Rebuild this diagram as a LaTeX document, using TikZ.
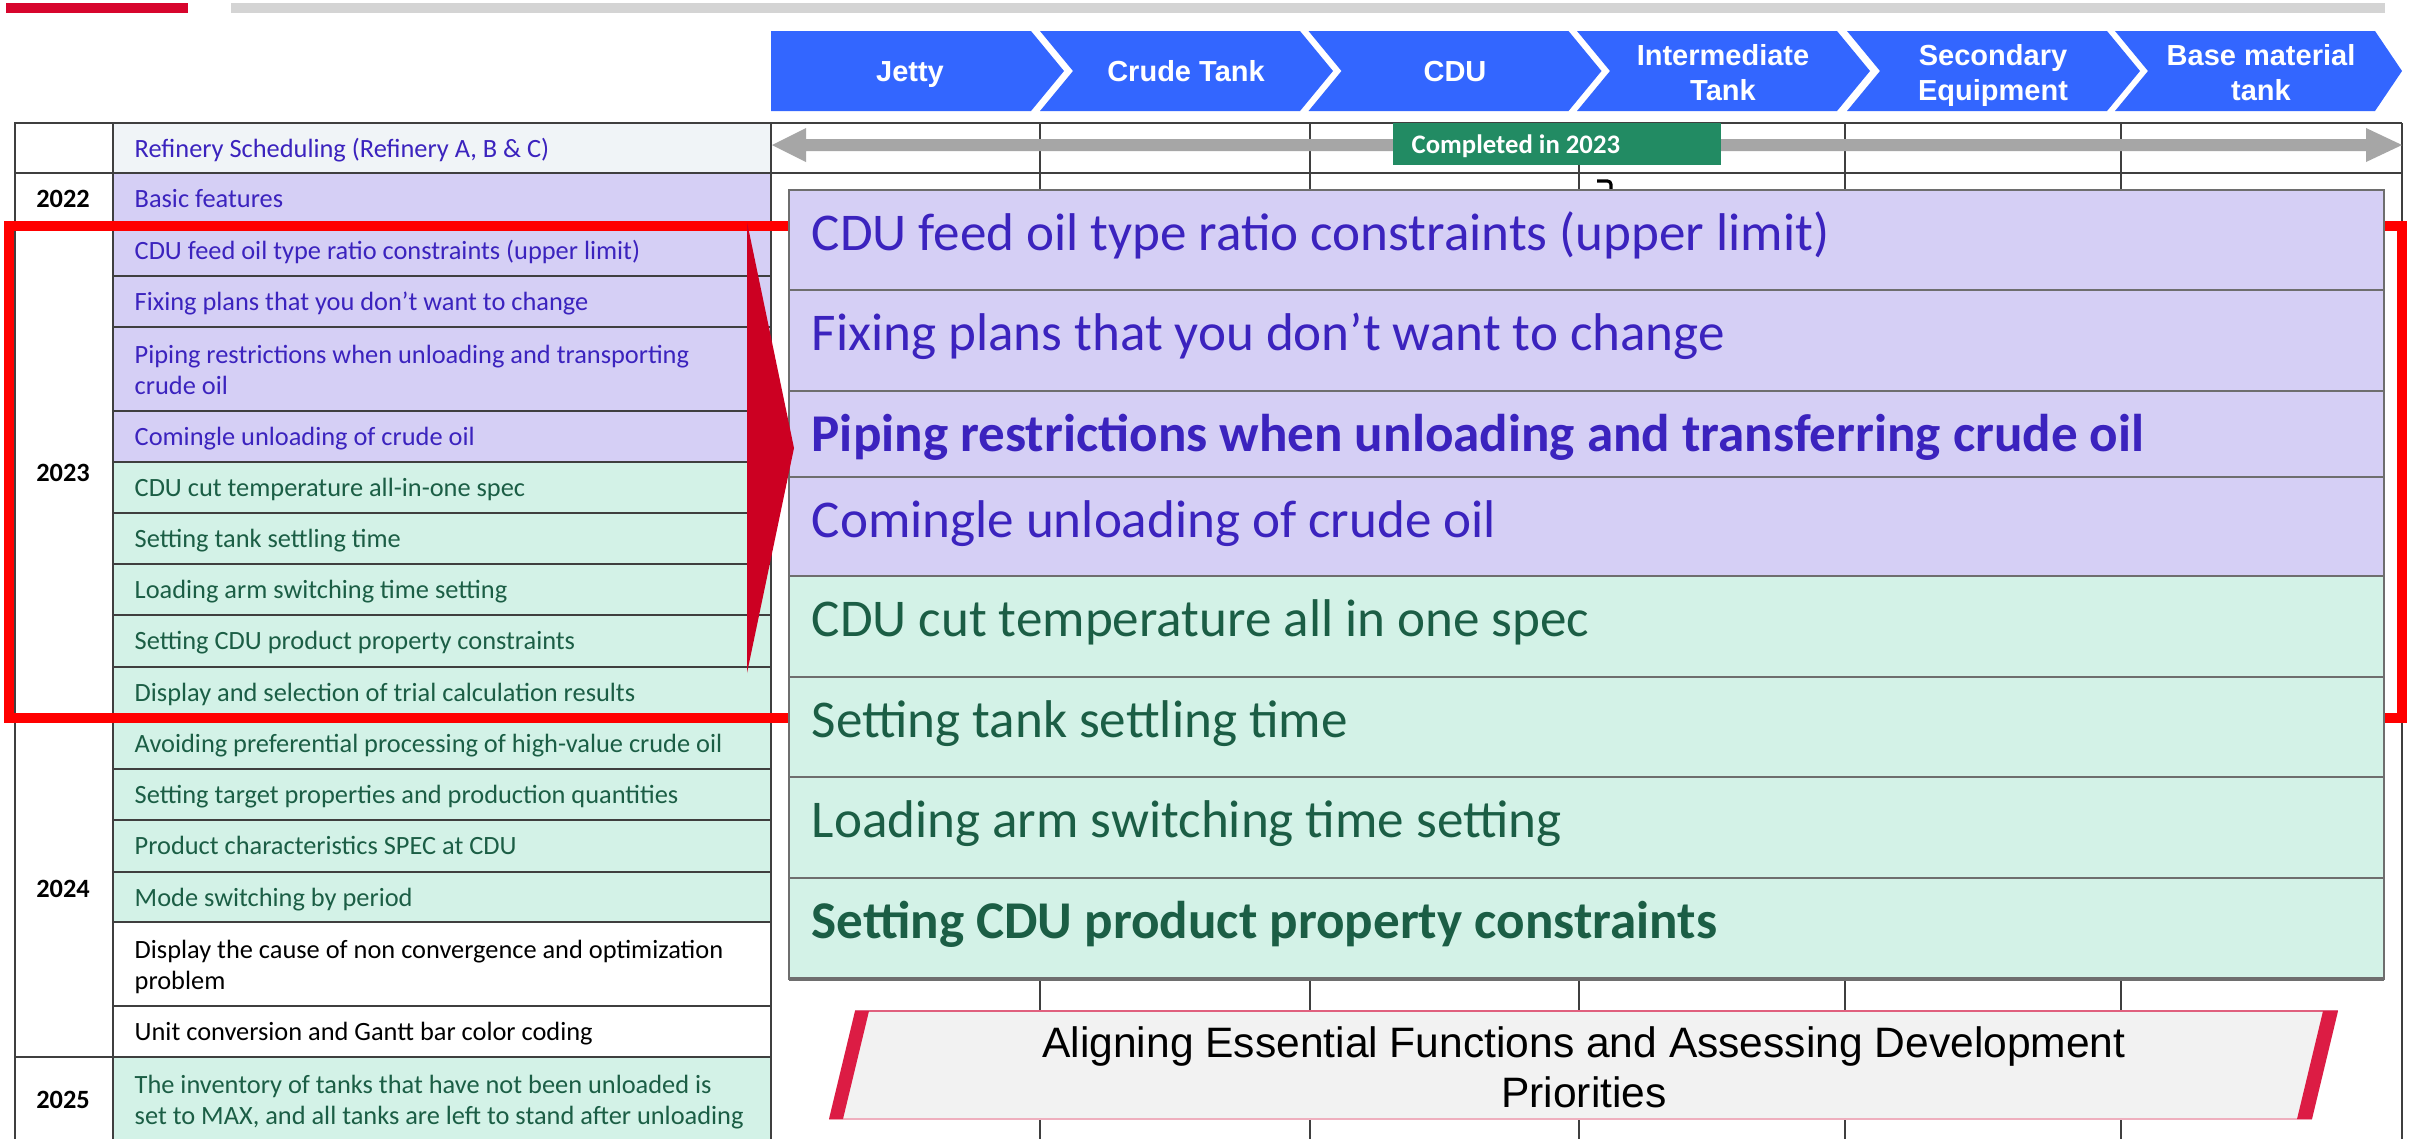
\documentclass[tikz,border=0pt]{standalone}
\usepackage{fontspec}
\setmainfont{Carlito}
\newfontfamily\arialf{Liberation Sans}
\definecolor{chevblue}{HTML}{3366FF}
\definecolor{lav}{HTML}{D5CFF5}
\definecolor{mint}{HTML}{D3F2E7}
\definecolor{hdrfill}{HTML}{F0F4F7}
\definecolor{purtxt}{HTML}{3B23BE}
\definecolor{grntxt}{HTML}{1B5E45}
\definecolor{arrowg}{HTML}{A6A6A6}
\definecolor{compg}{HTML}{228B63}
\definecolor{redr}{HTML}{FF0000}
\definecolor{trired}{HTML}{CC0022}
\definecolor{banred}{HTML}{DC1C44}
\definecolor{banfill}{HTML}{F2F2F2}
\definecolor{banpink}{HTML}{E0607E}
\definecolor{barg}{HTML}{D4D4D4}
\definecolor{barr}{HTML}{D7052D}
\definecolor{gridc}{HTML}{3F3F3F}
\definecolor{boxc}{HTML}{6E6E6E}
\newcommand\frow[6]{%
  \filldraw[fill=#4,draw=gridc,line width=0.45pt] (113,#2) rectangle (771,#3);
  \node[tbl,text=#5] (#1) at (134,#2+34) {#6};}
\newcommand\frowtwo[7]{%
  \filldraw[fill=#4,draw=gridc,line width=0.45pt] (113,#2) rectangle (771,#3);
  \node[tbl,text=#5] (#1a) at (134,#2+36) {#6};
  \node[tbl,text=#5] (#1b) at (134,#2+67) {#7};}
\newcommand\brow[6]{%
  \filldraw[fill=#4,draw=boxc,line width=0.6pt] (789,#2) rectangle (2384,#3);
  \node[big,text=#5] (#1) at (811,#2+60) {#6};}
\begin{document}
\begin{tikzpicture}[x=0.01cm,y=-0.01cm,
  tbl/.style={font=\fontsize{7.5pt}{9pt}\selectfont,anchor=base west,inner sep=0pt},
  big/.style={font=\fontsize{15.1pt}{18pt}\selectfont,anchor=base west,inner sep=0pt},
  chevtxt/.style={font=\arialf\bfseries\fontsize{8.25pt}{10pt}\selectfont,text=white,anchor=base,inner sep=0pt},
  yeartxt/.style={font=\bfseries\fontsize{7.5pt}{9pt}\selectfont,anchor=base,inner sep=0pt},
  bantxt/.style={font=\arialf\fontsize{12.1pt}{14pt}\selectfont,anchor=base,inner sep=0pt}]
\useasboundingbox (0,0) rectangle (2412,1138);
\clip (0,0) rectangle (2412,1138);
\fill[white] (0,0) rectangle (2412,1138);

% top bars
\fill[barr] (6,3) rectangle (188,13);
\fill[barg] (231,3) rectangle (2385,13);

% chevrons
\fill[chevblue] (771,31) -- (1031,31) -- (1064,71) -- (1031,111) -- (771,111) -- cycle;
\foreach \L in {1040,1308.5,1577,1847}
  \fill[chevblue] (\L,31) -- ++(260,0) -- ++(33,40) -- ++(-33,40) -- ++(-260,0) -- ++(33,-40) -- cycle;
\fill[chevblue] (2115,31) -- (2375,31) -- (2402,71) -- (2375,111) -- (2115,111) -- (2148,71) -- cycle;
\node[chevtxt] (c1) at (910,81) {Jetty};
\node[chevtxt] (c2) at (1186,81) {Crude Tank};
\node[chevtxt] (c3) at (1455,81) {CDU};
\node[chevtxt] (c4a) at (1723,65) {Intermediate};
\node[chevtxt] (c4b) at (1723,100) {Tank};
\node[chevtxt] (c5a) at (1993,65) {Secondary};
\node[chevtxt] (c5b) at (1993,100) {Equipment};
\node[chevtxt] (c6a) at (2261,65) {Base material};
\node[chevtxt] (c6b) at (2261,100) {tank};

% year column
\filldraw[fill=white,draw=gridc,line width=0.45pt] (15,123) rectangle (113,173);
\filldraw[fill=white,draw=gridc,line width=0.45pt] (15,173) rectangle (113,225);
\filldraw[fill=white,draw=gridc,line width=0.45pt] (15,225) rectangle (113,718);
\filldraw[fill=white,draw=gridc,line width=0.45pt] (15,718) rectangle (113,1057);
\filldraw[fill=white,draw=gridc,line width=0.45pt] (15,1057) rectangle (113,1160);
\node[yeartxt] (y22) at (63,207) {2022};
\node[yeartxt] (y23) at (63,481) {2023};
\node[yeartxt] (y24) at (63,897) {2024};
\node[yeartxt] (y25) at (63,1108) {2025};

% feature rows
\frow{f1}{123}{173}{hdrfill}{purtxt}{Refinery Scheduling (Refinery A, B \& C)}
\frow{f2}{173}{225}{lav}{purtxt}{Basic features}
\frow{f3}{225}{276}{lav}{purtxt}{CDU feed oil type ratio constraints (upper limit)}
\frow{f4}{276}{327}{lav}{purtxt}{Fixing plans that you don’t want to change}
\frowtwo{f5}{327}{411}{lav}{purtxt}{Piping restrictions when unloading and transporting}{crude oil}
\frow{f6}{411}{462}{lav}{purtxt}{Comingle unloading of crude oil}
\frow{f7}{462}{513}{mint}{grntxt}{CDU cut temperature all-in-one spec}
\frow{f8}{513}{564}{mint}{grntxt}{Setting tank settling time}
\frow{f9}{564}{615}{mint}{grntxt}{Loading arm switching time setting}
\frow{f10}{615}{667}{mint}{grntxt}{Setting CDU product property constraints}
\frow{f11}{667}{718}{mint}{grntxt}{Display and selection of trial calculation results}
\frow{f12}{718}{769}{mint}{grntxt}{Avoiding preferential processing of high-value crude oil}
\frow{f13}{769}{820}{mint}{grntxt}{Setting target properties and production quantities}
\frow{f14}{820}{872}{mint}{grntxt}{Product characteristics SPEC at CDU}
\frow{f15}{872}{922}{mint}{grntxt}{Mode switching by period}
\frowtwo{f16}{922}{1006}{white}{black}{Display the cause of non convergence and optimization}{problem}
\frow{f17}{1006}{1057}{white}{black}{Unit conversion and Gantt bar color coding}
\frowtwo{f18}{1057}{1160}{mint}{grntxt}{The inventory of tanks that have not been unloaded is}{set to MAX, and all tanks are left to stand after unloading}

% right grid
\draw[gridc,line width=0.45pt] (771,123) -- (2402,123) (771,173) -- (2402,173);
\foreach \X in {1040,1310,1579,1845,2121,2402}
  \draw[gridc,line width=0.45pt] (\X,123) -- (\X,1160);

% gray double arrow
\fill[arrowg] (772,145) -- (806,128) -- (806,139) -- (2366,139) -- (2366,128) -- (2402,145)
  -- (2366,162) -- (2366,151) -- (806,151) -- (806,162) -- cycle;

% completed label
\fill[compg] (1393,123) rectangle (1721,165);
\node[font=\bfseries\fontsize{7.6pt}{9pt}\selectfont,text=white,anchor=base west,inner sep=0pt] (comp) at (1411,153) {Completed in 2023};

% small hook
\draw[black,line width=0.9pt,rounded corners=1pt] (1597,181) -- (1611,181) -- (1611,191);

% red frame
\draw[redr,line width=2.85pt] (9,226) rectangle (2402,718);

% big box
\brow{b1}{190}{290}{lav}{purtxt}{CDU feed oil type ratio constraints (upper limit)}
\brow{b2}{290}{391}{lav}{purtxt}{Fixing plans that you don’t want to change}
\brow{b3}{391}{477}{lav}{purtxt}{\bfseries Piping restrictions when unloading and transferring crude oil}
\brow{b4}{477}{576}{lav}{purtxt}{Comingle unloading of crude oil}
\brow{b5}{576}{677}{mint}{grntxt}{CDU cut temperature all in one spec}
\brow{b6}{677}{777}{mint}{grntxt}{Setting tank settling time}
\brow{b7}{777}{878}{mint}{grntxt}{Loading arm switching time setting}
\brow{b8}{878}{979}{mint}{grntxt}{\bfseries Setting CDU product property constraints}
\draw[boxc,line width=0.6pt] (789,190) rectangle (2384,979);
\draw[boxc,line width=1.2pt] (789,979) -- (2384,979);

% red triangle
\fill[trired] (747,222) -- (794,448) -- (747,673) -- cycle;

% banner
\fill[banfill] (855,1011) -- (2338,1011) -- (2312,1119) -- (829,1119) -- cycle;
\draw[banpink,line width=0.6pt] (855,1011) -- (2338,1011);
\draw[banpink!50,line width=0.6pt] (829,1119) -- (2312,1119);
\fill[banred] (855,1011) -- (869,1011) -- (843,1119) -- (829,1119) -- cycle;
\fill[banred] (2323,1011) -- (2338,1011) -- (2312,1119) -- (2297,1119) -- cycle;
\node[bantxt] (ban1) at (1584,1057) {Aligning Essential Functions and Assessing Development};
\node[bantxt] (ban2) at (1584,1107) {Priorities};
\end{tikzpicture}
\end{document}
